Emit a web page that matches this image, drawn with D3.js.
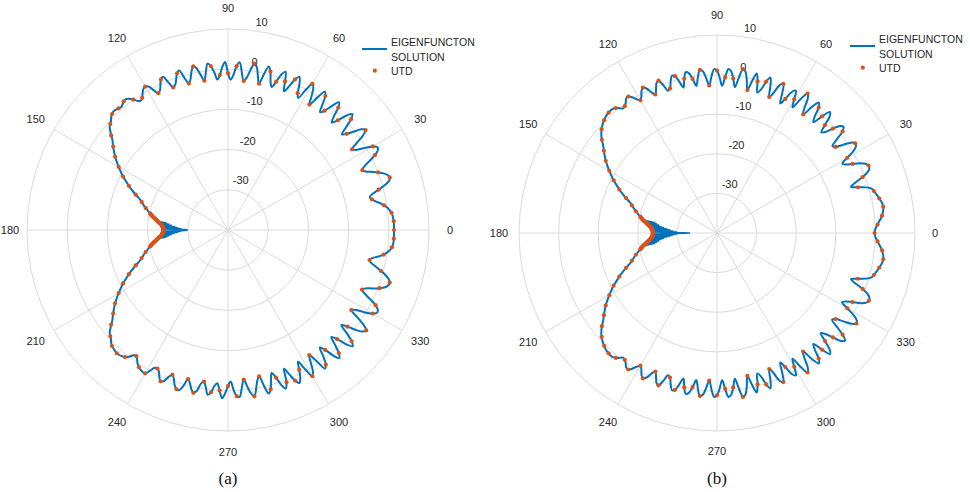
<!DOCTYPE html>
<html><head><meta charset="utf-8">
<script src="https://cdn.jsdelivr.net/npm/d3@7"></script>
<style>
body{margin:0;background:#fff}
svg{display:block}
text.sans{font-family:"Liberation Sans",Arial,Helvetica,sans-serif}
text.serif{font-family:"Liberation Serif","Times New Roman",serif}
</style>
</head><body>
<svg id="c" width="970" height="492"></svg>
<script>
// ---------- data ----------
const thetaTicks = [0,30,60,90,120,150,180,210,240,270,300,330];
const rTicks = [-30,-20,-10,0,10];
const rDomain = [-40,10];
const legendLabels = ["EIGENFUNCTON", "SOLUTION", "UTD"];
const captions = ["(a)", "(b)"];

// eigenfunction solution (dB), one value per degree 0..359
const eigenA = [
1.3,1.3,1.3,1.3,1.2,1.1,0.9,0.5,0.0,-0.7,
-1.6,-2.6,-3.4,-3.8,-3.0,-1.2,0.6,1.9,2.3,2.0,
1.2,0.0,-1.4,-2.8,-3.4,-2.6,-0.8,1.0,2.2,2.5,
1.6,-0.4,-2.4,-3.2,-1.4,1.0,2.3,1.6,-0.2,-2.0,
-3.0,-1.2,1.2,2.3,1.0,-1.4,-2.8,-1.4,1.0,2.1,
0.4,-1.8,-2.8,-1.0,1.2,2.0,-0.2,-2.8,-0.8,1.2,
2.0,-0.2,-2.8,-1.8,0.6,2.0,1.0,-1.2,-2.8,-0.4,
1.9,1.0,-1.2,-2.8,-1.6,0.8,1.9,-0.2,-2.8,-1.0,
1.2,1.9,0.2,-1.8,-2.7,-0.6,1.8,0.8,-1.4,-2.6,
-1.0,1.8,0.6,-1.4,-2.5,-0.6,1.0,1.7,-0.4,-2.4,
-0.8,1.0,1.6,0.4,-1.4,-2.3,-0.6,1.5,1.0,-0.4,
-1.6,-2.0,-0.4,1.4,1.0,-0.2,-1.4,-1.8,-0.6,0.8,
1.2,0.9,0.1,-0.8,-1.2,-0.8,0.1,0.9,1.3,1.2,
0.8,0.5,0.7,0.9,1.0,0.8,0.4,-0.2,-0.6,-1.0,
-1.8,-2.6,-3.5,-4.1,-4.7,-5.3,-5.9,-6.5,-7.2,-7.9,
-8.6,-9.3,-10.0,-10.7,-11.5,-12.3,-13.0,-13.8,-14.6,-15.4,
-16.2,-16.9,-17.4,-17.9,-18.3,-18.8,-19.3,-19.7,-20.2,-20.6,
-21.0,-21.5,-22.0,-22.4,-22.8,-23.2,-23.5,-23.7,-23.8,-23.9,
-23.9,-23.9,-23.8,-23.7,-23.5,-23.2,-22.8,-22.4,-22.0,-21.5,
-21.0,-20.6,-20.2,-19.7,-19.3,-18.8,-18.3,-17.9,-17.4,-16.9,
-16.2,-15.4,-14.6,-13.8,-13.0,-12.3,-11.5,-10.7,-10.0,-9.3,
-8.6,-7.9,-7.2,-6.5,-5.9,-5.3,-4.7,-4.1,-3.5,-2.6,
-1.8,-1.0,-0.6,-0.2,0.4,0.8,1.0,1.2,1.3,1.2,
1.0,0.7,0.0,-1.0,-1.2,-0.6,0.2,0.7,1.0,1.2,
1.2,0.0,-1.2,-1.3,-0.8,0.4,1.2,0.8,-0.6,-1.4,
-0.6,0.8,1.6,1.7,0.4,-1.6,-0.8,0.6,1.4,0.8,
-1.2,-1.8,-0.4,1.3,0.6,-1.0,-1.8,0.0,1.9,0.6,
-1.2,-2.3,-0.2,1.4,1.6,-0.6,-2.6,-0.8,1.0,1.9,
0.2,-1.8,-2.8,-0.2,1.9,1.0,-1.2,-2.8,-1.4,0.8,
2.0,0.6,-2.8,-1.0,1.0,2.0,1.0,-1.0,-2.9,-0.4,
2.0,1.0,-1.2,-2.9,-0.8,2.1,1.4,-0.6,-2.9,-1.6,
0.8,2.2,1.2,-1.0,-3.0,-1.6,1.0,2.4,1.4,-0.8,
-3.2,-1.8,0.4,2.0,2.5,1.2,-1.2,-3.4,-2.4,-0.2,
1.6,2.4,2.2,1.2,-0.6,-2.4,-3.5,-2.8,-1.2,0.4,
1.6,2.2,2.3,1.8,0.8,-0.6,-2.0,-3.4,-4.0,-3.4,
-2.0,-0.8,0.0,0.6,1.0,1.2,1.3,1.3,1.3,1.3
];
const eigenB = [
-0.2,-0.1,0.2,0.6,1.0,1.5,1.9,2.2,2.4,2.5,
2.4,2.2,1.9,1.6,1.3,1.0,0.6,-0.6,-2.6,-4.2,
-2.8,-0.6,1.0,1.8,1.9,1.4,0.2,-1.6,-3.2,-3.8,
-2.0,0.2,1.4,1.6,0.8,-1.2,-3.0,-3.5,-1.6,0.8,
1.7,1.2,-0.6,-2.6,-3.4,-1.4,1.0,1.8,-0.4,-2.9,
-1.6,0.8,1.8,0.0,-3.0,-1.6,1.0,2.0,0.0,-3.0,
-1.0,1.1,0.4,-2.0,-3.6,-1.0,1.2,0.6,-1.8,-3.2,
-0.6,1.5,0.2,-2.2,-3.1,-0.4,1.5,-0.6,-3.1,-0.6,
1.4,1.9,-0.4,-2.9,-0.8,1.0,1.5,-0.6,-2.8,-0.8,
1.0,1.4,-0.4,-2.7,-0.8,1.0,1.4,-0.4,-2.5,-0.6,
1.0,1.4,-0.2,-2.3,-0.6,1.0,1.3,0.0,-1.6,-2.0,
-0.2,1.2,0.8,-0.6,-1.7,-0.8,0.6,1.2,0.6,-0.6,
-1.3,-0.6,0.4,1.1,1.0,0.2,-0.4,-0.6,0.0,0.6,
0.9,1.0,0.9,0.8,0.6,0.3,0.0,-0.4,-0.8,-1.3,
-1.9,-2.6,-3.4,-4.1,-4.7,-5.3,-5.9,-6.5,-7.2,-7.9,
-8.6,-9.3,-10.0,-10.7,-11.5,-12.3,-13.0,-13.8,-14.6,-15.4,
-16.2,-16.9,-17.4,-17.9,-18.3,-18.8,-19.3,-19.7,-20.2,-20.6,
-21.0,-21.5,-22.0,-22.4,-22.8,-23.2,-23.5,-23.7,-23.8,-23.9,
-23.9,-23.9,-23.8,-23.7,-23.5,-23.2,-22.8,-22.4,-22.0,-21.5,
-21.0,-20.6,-20.2,-19.7,-19.3,-18.8,-18.3,-17.9,-17.4,-16.9,
-16.2,-15.4,-14.6,-13.8,-13.0,-12.3,-11.5,-10.7,-10.0,-9.3,
-8.6,-7.9,-7.2,-6.5,-5.9,-5.3,-4.7,-4.1,-3.4,-2.6,
-1.9,-1.3,-0.8,-0.4,0.0,0.3,0.6,0.8,0.9,1.0,
0.9,0.6,0.0,-0.6,-0.4,0.2,1.0,1.1,0.4,-0.6,
-1.3,-0.6,0.6,1.2,0.6,-0.8,-1.7,-0.6,0.8,1.2,
-0.2,-2.0,-1.6,0.0,1.3,1.0,-0.6,-2.3,-0.2,1.4,
1.0,-0.6,-2.5,-0.4,1.4,1.0,-0.8,-2.7,-0.4,1.4,
1.0,-0.8,-2.8,-0.6,1.5,1.0,-0.8,-2.9,-0.4,1.9,
1.4,-0.6,-3.1,-0.6,1.5,-0.4,-3.1,-2.2,0.2,1.5,
-0.6,-3.2,-1.8,0.6,1.2,-1.0,-3.6,-2.0,0.4,1.1,
-1.0,-3.0,0.0,2.0,1.0,-1.6,-3.0,0.0,1.8,0.8,
-1.6,-2.9,-0.4,1.8,1.0,-1.4,-3.6,-2.6,-0.6,1.6,
2.2,0.8,-1.6,-3.6,-3.0,-1.2,1.0,2.0,1.6,0.2,
-2.0,-3.9,-3.2,-1.6,0.4,1.6,2.0,1.8,1.0,-0.6,
-2.8,-4.2,-2.6,-0.6,0.6,1.0,1.3,1.6,1.9,2.2,
2.4,2.5,2.4,2.2,1.9,1.5,1.0,0.6,0.2,-0.1
];

// eigenfunction fast oscillation in the deep shadow (dB), every 0.5 degree
const shadowA = [
-22.4,-24.6,-22.8,-25.3,-23.2,-26.0,-23.5,-26.8,-23.7,-27.6,
-23.8,-28.4,-23.9,-29.3,-30.0,-29.3,-23.9,-28.4,-23.8,-27.6,
-23.7,-26.8,-23.5,-26.0,-23.2,-25.3,-22.8,-24.6,-22.4
];
const shadowB = [
-21.0,-24.2,-21.5,-24.7,-22.0,-25.3,-22.4,-25.9,-22.8,-26.6,
-23.2,-27.4,-23.5,-28.2,-23.7,-29.0,-23.8,-29.9,-23.9,-31.5,
-33.2,-31.5,-23.9,-29.9,-23.8,-29.0,-23.7,-28.2,-23.5,-27.4,
-23.2,-26.6,-22.8,-25.9,-22.4,-25.3,-22.0,-24.7,-21.5,-24.2,
-21.0
];

// UTD (dB): every 3 degrees 0..165 and 195..357
const utdA = [
1.3,1.3,0.9,-0.7,-3.4,-1.2,2.3,0.0,-3.4,1.0,
1.6,-3.2,2.3,-2.0,1.2,-1.4,1.0,-1.8,1.2,-2.8,
2.0,-1.8,1.0,-0.4,-1.2,0.8,-2.8,1.9,-2.7,0.8,
-1.0,-1.4,1.0,-2.4,1.6,-2.3,1.0,-2.0,1.0,-1.8,
1.2,-0.8,0.1,1.2,0.7,0.8,-0.6,-2.6,-4.7,-6.5,
-8.6,-10.7,-13.0,-15.4,-17.4,-18.8,
-18.8,-17.4,-15.4,-13.0,-10.7,-8.6,-6.5,-4.7,-2.6,-0.6,
0.8,1.3,0.7,-1.2,0.7,1.2,-1.3,1.2,-1.4,1.6,
-1.6,1.4,-1.8,0.6,0.0,-1.2,1.4,-2.6,1.9,-2.8,
1.0,-1.4,0.6,1.0,-1.0,2.0,-2.9,1.4,-1.6,1.2,
-1.6,1.4,-1.8,2.5,-3.4,1.6,1.2,-3.5,0.4,2.3,
-0.6,-4.0,-0.8,1.0,1.3
];
const utdB = [
-0.2,0.6,1.9,2.5,1.9,1.0,-2.6,-0.6,1.9,-1.6,
-2.0,1.6,-3.0,0.8,-0.6,-1.4,-0.4,0.8,-3.0,2.0,
-1.0,-2.0,1.2,-3.2,0.2,-0.4,-3.1,1.9,-0.8,-0.6,
1.0,-2.7,1.4,-0.6,-0.2,1.0,-1.6,1.2,-1.7,1.2,
-1.3,1.1,-0.4,0.6,0.9,0.3,-0.8,-2.6,-4.7,-6.5,
-8.6,-10.7,-13.0,-15.4,-17.4,-18.8,
-18.8,-17.4,-15.4,-13.0,-10.7,-8.6,-6.5,-4.7,-2.6,-0.8,
0.3,0.9,0.6,-0.4,1.1,-1.3,1.2,-1.7,1.2,-1.6,
1.0,-0.2,-0.6,1.4,-2.7,1.0,-0.6,-0.8,1.9,-3.1,
-0.4,0.2,-3.2,1.2,-2.0,-1.0,2.0,-3.0,0.8,-0.4,
-1.4,-0.6,0.8,-3.0,2.0,-2.0,-1.6,2.0,-0.6,-2.6,
1.0,1.9,2.5,1.9,0.6
];
// UTD near the shadow tip, every 0.5 degree from 168 to 192
const utdTipA = [
-20.2,-20.4,-20.6,-20.8,-21.0,-21.3,-21.5,-21.8,-22.0,-22.2,
-22.4,-22.6,-22.8,-23.0,-23.2,-23.4,-23.5,-23.6,-23.7,-23.8,
-23.8,-23.9,-23.9,-23.9,-23.9,-23.9,-23.9,-23.9,-23.8,-23.8,
-23.7,-23.6,-23.5,-23.4,-23.2,-23.0,-22.8,-22.6,-22.4,-22.2,
-22.0,-21.8,-21.5,-21.3,-21.0,-20.8,-20.6,-20.4,-20.2
];
const utdTipB = [
-20.2,-20.4,-20.6,-20.8,-21.0,-21.3,-21.5,-21.8,-22.0,-22.2,
-22.4,-22.6,-22.8,-23.0,-23.2,-23.3,-23.4,-23.5,-23.6,-23.7,
-23.7,-23.8,-23.8,-23.8,-23.8,-23.8,-23.8,-23.8,-23.7,-23.7,
-23.6,-23.5,-23.4,-23.3,-23.2,-23.0,-22.8,-22.6,-22.4,-22.2,
-22.0,-21.8,-21.5,-21.3,-21.0,-20.8,-20.6,-20.4,-20.2
];

// ---------- drawing ----------
const eigenAngles = d3.range(0, 360, 1);
const utdAngles = d3.range(0, 168, 3).concat(d3.range(195, 360, 3));
const utdTipAngles = d3.range(168, 192.001, 0.5);
const shadowAnglesA = d3.range(173, 187.001, 0.5);
const shadowAnglesB = d3.range(170, 190.001, 0.5);

const BLUE = "#0072BD", RED = "#D95319", GRID = "#dadada", TXT = "#262626";
const svg = d3.select("#c");
svg.append("rect").attr("width", 970).attr("height", 492).attr("fill", "#fff");

function panel(cfg) {
  const g = svg.append("g").attr("transform", `translate(${cfg.cx},${cfg.cy})`);
  const r = d3.scaleLinear().domain(rDomain).range([0, cfg.R]);
  const rad = d => d * Math.PI / 180;
  const ang = d => rad(90 - d); // d3 radial angle (clockwise from 12 o'clock)
  const R = r(rDomain[1]);

  g.selectAll("line.spoke").data(thetaTicks).join("line")
    .attr("x1", 0).attr("y1", 0)
    .attr("x2", d => R * Math.cos(rad(d))).attr("y2", d => -R * Math.sin(rad(d)))
    .attr("stroke", GRID).attr("stroke-width", 1);
  g.selectAll("circle.ring").data(rTicks).join("circle")
    .attr("r", d => r(d)).attr("fill", "none")
    .attr("stroke", GRID).attr("stroke-width", 1);

  g.selectAll("text.th").data(thetaTicks).join("text").attr("class", "sans")
    .attr("x", d => (R + cfg.lab) * Math.cos(rad(d)) + (d === 180 && cfg.cx - R - cfg.lab < 10 ? 4 : 0))
    .attr("y", d => -(R + cfg.lab) * Math.sin(rad(d)))
    .attr("dy", "0.35em").attr("text-anchor", "middle")
    .attr("font-size", 11).attr("fill", TXT).text(d => d);

  g.selectAll("text.rt").data(rTicks).join("text").attr("class", "sans")
    .attr("x", d => (r(d) + 10) * Math.cos(rad(80)) + (d < 0 ? 4 : -3))
    .attr("y", d => -(r(d) + 10) * Math.sin(rad(80)))
    .attr("dy", "0.35em").attr("text-anchor", "middle")
    .attr("font-size", 11).attr("fill", TXT).text(d => d);

  const smooth = d3.lineRadial().angle(d => ang(d[0])).radius(d => r(d[1]))
    .curve(d3.curveCatmullRomClosed);
  const sharp = d3.lineRadial().angle(d => ang(d[0])).radius(d => r(d[1]))
    .curve(d3.curveLinear);

  g.append("path").datum(eigenAngles.map((a, i) => [a, cfg.eigen[i]]))
    .attr("d", smooth).attr("fill", "none").attr("stroke", BLUE)
    .attr("stroke-width", 2).attr("stroke-linejoin", "round");
  g.append("path").datum(cfg.shadowAngles.map((a, i) => [a, cfg.shadow[i]]))
    .attr("d", sharp).attr("fill", "none").attr("stroke", BLUE)
    .attr("stroke-width", 1.6).attr("stroke-linejoin", "miter");

  const pts = utdAngles.map((a, i) => [a, cfg.utd[i]])
    .concat(utdTipAngles.map((a, i) => [a, cfg.utdTip[i]]));
  g.selectAll("circle.utd").data(pts).join("circle")
    .attr("cx", d => r(d[1]) * Math.cos(rad(d[0])))
    .attr("cy", d => -r(d[1]) * Math.sin(rad(d[0])))
    .attr("r", 2.1).attr("fill", RED);

  // legend
  const L = svg.append("g").attr("transform", `translate(${cfg.lx},${cfg.ly})`);
  L.append("line").attr("x1", 0).attr("x2", 25).attr("y1", 7).attr("y2", 7)
    .attr("stroke", BLUE).attr("stroke-width", 2);
  L.append("circle").attr("cx", 12.8).attr("cy", 28.7).attr("r", 2.1).attr("fill", RED);
  L.selectAll("text").data(legendLabels).join("text").attr("class", "sans")
    .attr("x", 29).attr("y", (d, i) => [0.7, 15.3, 29][i])
    .attr("dy", "0.35em").attr("font-size", 10.5).attr("fill", TXT).text(d => d);

  svg.append("text").attr("class", "serif").attr("x", cfg.cx).attr("y", 478).attr("dy", "0.35em")
    .attr("text-anchor", "middle").attr("font-size", 17)
    .attr("fill", "#111").text(cfg.caption);
}

panel({cx: 228, cy: 230, R: 201, lab: 21, eigen: eigenA, shadow: shadowA,
       shadowAngles: shadowAnglesA, utd: utdA, utdTip: utdTipA,
       lx: 362, ly: 42, caption: captions[0]});
panel({cx: 717, cy: 233, R: 198, lab: 20, eigen: eigenB, shadow: shadowB,
       shadowAngles: shadowAnglesB, utd: utdB, utdTip: utdTipB,
       lx: 850, ly: 39, caption: captions[1]});
</script>
</body></html>
